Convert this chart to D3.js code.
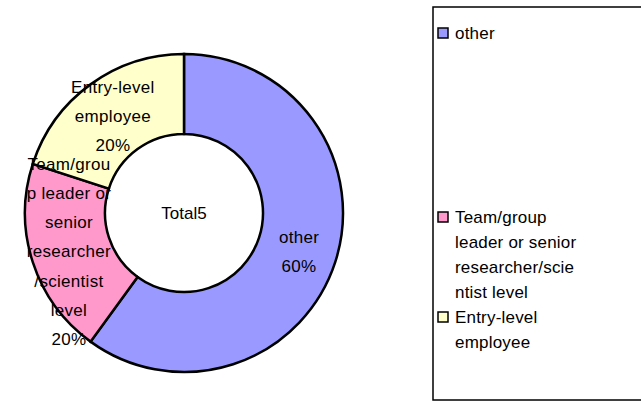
<!DOCTYPE html>
<html>
<head>
<meta charset="utf-8">
<script src="https://cdn.jsdelivr.net/npm/d3@7"></script>
<style>
  body { margin: 0; background: #fff; }
  text { font-family: "Liberation Sans", Arial, sans-serif; fill: #000; }
</style>
</head>
<body>
<div id="chart"></div>
<script>
// data
var categories = ["other", "Team/group leader or senior researcher/scientist level", "Entry-level employee"];
var counts = [3, 1, 1];
var colors = ["#9999ff", "#ff99cc", "#ffffcc"];
// wrapped text as it appears in the picture
var sliceLines = [["other"], ["Team/grou", "p leader or", "senior", "researcher", "/scientist", "level"], ["Entry-level", "employee"]];
var legendLines = [["other"], ["Team/group", "leader or senior", "researcher/scie", "ntist level"], ["Entry-level", "employee"]];

var width = 641, height = 408;
var cx = 184, cy = 213, outerR = 159, innerR = 79;

var svg = d3.select("#chart").append("svg")
    .attr("width", width)
    .attr("height", height);

var total = d3.sum(counts);
var pct = d3.format(".0%");

var pie = d3.pie().sort(null).value(function(d) { return d; });
var arcs = pie(counts);

var arc = d3.arc().innerRadius(innerR).outerRadius(outerR);
var labelArc = d3.arc().innerRadius(121).outerRadius(121);

var g = svg.append("g").attr("transform", "translate(" + cx + "," + cy + ")");

g.selectAll("path").data(arcs).enter().append("path")
    .attr("d", arc)
    .attr("fill", function(d, i) { return colors[i]; })
    .attr("stroke", "#000")
    .attr("stroke-width", 2.5);

// slice labels
var fs = 17, lineH = 29.3;
arcs.forEach(function(d, i) {
    var lines = sliceLines[i].concat([pct(d.value / total)]);
    var c = labelArc.centroid(d);
    var t = g.append("text")
        .attr("text-anchor", "middle")
        .attr("font-size", fs)
        .attr("letter-spacing", 0.3);
    lines.forEach(function(s, k) {
        t.append("tspan")
            .attr("x", c[0])
            .attr("y", c[1] + (k - (lines.length - 1) / 2) * lineH + 7)
            .text(s);
    });
});

g.append("text")
    .attr("text-anchor", "middle")
    .attr("font-size", fs)
    .attr("y", 6)
    .text("Total" + total);

// legend
var lg = svg.append("g");
lg.append("rect")
    .attr("x", 433).attr("y", 7)
    .attr("width", 230).attr("height", 393)
    .attr("fill", "#fff")
    .attr("stroke", "#000")
    .attr("stroke-width", 1.5);

var legendY = [33, 217, 317], legH = 25;
categories.forEach(function(c, i) {
    lg.append("rect")
        .attr("x", 438).attr("y", legendY[i] - 5)
        .attr("width", 10).attr("height", 10)
        .attr("fill", colors[i])
        .attr("stroke", "#000")
        .attr("stroke-width", 1.5);
    var t = lg.append("text").attr("font-size", fs).attr("letter-spacing", 0.2);
    legendLines[i].forEach(function(s, k) {
        t.append("tspan")
            .attr("x", 455)
            .attr("y", legendY[i] + k * legH + 6)
            .text(s);
    });
});
</script>
</body>
</html>
